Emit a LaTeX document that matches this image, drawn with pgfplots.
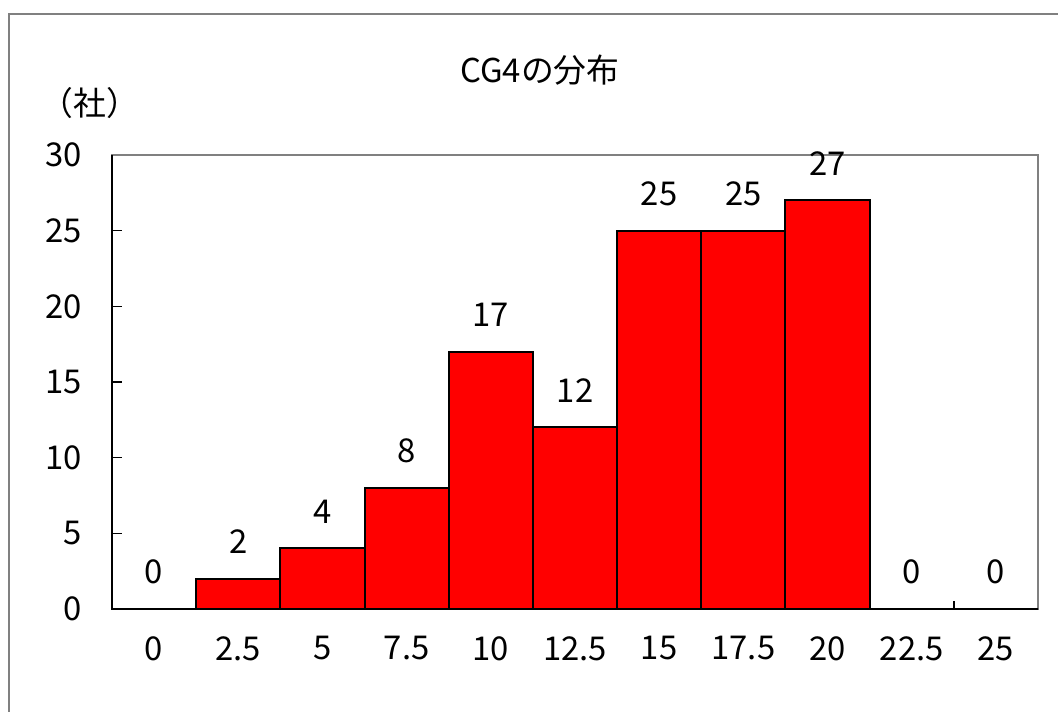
\documentclass[border=0pt]{standalone}
\usepackage{pgfplots}
\pgfplotsset{compat=1.18}
\usepackage{fontspec}
\setmainfont{Noto Sans CJK JP}
\newcommand\f{\fontsize{16.4}{20}\selectfont}
\definecolor{frame}{RGB}{128,128,128}
\begin{document}
\f
\begin{tikzpicture}
\useasboundingbox (0,0) rectangle (529pt,355.5pt);
\clip (0,0) rectangle (529pt,355.5pt);
\draw[line width=0.8pt, color=frame] (4.5pt,-10pt) -- (4.5pt,348.5pt) -- (540pt,348.5pt);
\node[font=\f] at (270pt,320.5pt) {CG4の分布};
\node[font=\f] at (45pt,304pt) {（社）};
\begin{axis}[
  at={(56pt,51pt)}, anchor=south west, scale only axis,
  width=463pt, height=227pt,
  xmin=-0.5, xmax=10.5, ymin=0, ymax=30,
  ytick={0,5,...,30},
  xtick={0,...,10},
  xticklabels={0,2.5,5,7.5,10,12.5,15,17.5,20,22.5,25},
  minor xtick={0.5,1.5,...,9.5},
  tick align=inside,
  xtick pos=bottom, ytick pos=left,
  major tick length=5pt, minor tick length=4pt,
  major x tick style={draw=none},
  tick style={black, line width=0.8pt},
  axis line style={frame, line width=1pt},
  /pgf/number format/assume math mode=true,
  tick label style={font=\f},
  yticklabel style={anchor=east, inner sep=0pt, xshift=-15pt},
  xticklabel style={anchor=north, inner sep=0pt, yshift=-13.5pt},
  clip=false,
]
\addplot[ybar, bar width=1, fill=red, draw=black, line width=1pt,
  nodes near coords,
  every node near coord/.append style={font=\f, inner sep=0pt, anchor=south, yshift=12pt, text=black}]
  coordinates {(0,0) (1,2) (2,4) (3,8) (4,17) (5,12) (6,25) (7,25) (8,27) (9,0) (10,0)};
\draw[black, line width=1pt] (rel axis cs:0,1) -- (rel axis cs:0,0) -- (rel axis cs:1,0);
\end{axis}
\end{tikzpicture}
\end{document}
